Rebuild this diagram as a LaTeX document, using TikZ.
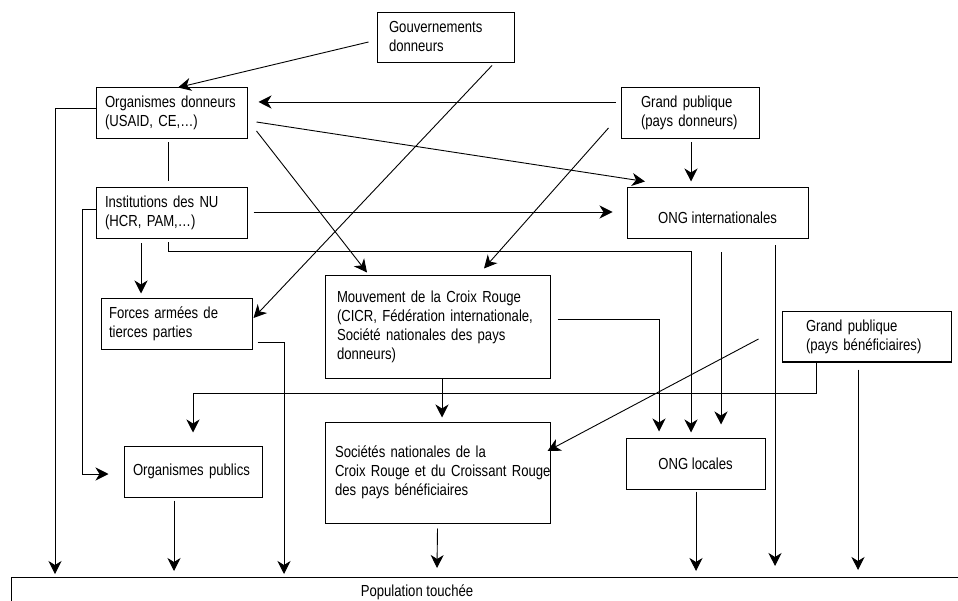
\documentclass[tikz,border=0pt]{standalone}
\usepackage{fontspec}
\setmainfont{Liberation Sans}[FakeStretch=0.82]
\usetikzlibrary{calc,arrows.meta}
\newcommand\lns[1]{\begin{tabular}{@{}l@{}}#1\end{tabular}}
\begin{document}
\begin{tikzpicture}[x=1pt,y=-1pt,
  box/.style={draw, line width=1pt, inner sep=0pt, align=left, font=\fontsize{16}{19}\selectfont},
  arr/.style={line width=0.9pt, -{Stealth[length=13pt,width=13pt,inset=4pt]}},
  ln/.style={line width=0.9pt}]
\useasboundingbox (0,0) rectangle (958,601);
% boxes
\node[box, minimum width=137pt, minimum height=50pt, text width=113pt] (gov) at (445.5,38) {\lns{Gouvernements\\donneurs}};
\node[box, minimum width=151pt, minimum height=51pt, text width=133pt] (orgdon) at (171.5,113.5) {\lns{Organismes donneurs\\(USAID, CE,…)}};
\node[box, minimum width=151pt, minimum height=51pt, text width=133pt] (inst) at (171.5,213.5) {\lns{Institutions des NU\\(HCR, PAM,…)}};
\node[box, minimum width=138pt, minimum height=51pt, text width=98pt] (gpd) at (690,113.5) {\lns{Grand publique\\(pays donneurs)}};
\node[box, minimum width=181pt, minimum height=51pt, align=center, text height=21pt, text depth=0pt] (ongint) at (717.5,213.5) {ONG internationales};
\node[box, minimum width=151pt, minimum height=51pt, text width=135pt] (forces) at (176.5,324.5) {\lns{Forces armées de\\tierces parties}};
\node[box, minimum width=225pt, minimum height=102pt, text width=201pt] (mvt) at (437.5,327) {\lns{Mouvement de la Croix Rouge\\(CICR, Fédération internationale,\\Société nationales des pays\\donneurs)}};
\node[box, minimum width=169pt, minimum height=50pt, text width=121pt] (gpb) at (866.5,337) {\lns{Grand publique\\(pays bénéficiaires)}};
\node[box, minimum width=138pt, minimum height=51pt, text width=120pt] (orgpub) at (193,471.5) {\lns{Organismes publics}};
\node[box, minimum width=225pt, minimum height=101pt, text width=205pt] (soc) at (437.5,472.5) {\lns{Sociétés nationales de la\\Croix Rouge et du Croissant Rouge\\des pays bénéficiaires}};
\node[box, minimum width=139pt, minimum height=51pt, align=center] (onglo) at (695.5,463.5) {ONG locales};
\node[box, minimum width=1000pt, minimum height=40pt, anchor=north west] (pop) at (11,577) {};
\node[font=\fontsize{16}{19}\selectfont, inner sep=0pt] (poplbl) at (417,592) {Population touchée};
% connectors
\draw[arr] ($(gov.west)+(-8,4)$) -- ($(orgdon.north)+(6.5,0)$);
\draw[arr] ($(gov.south)+(46.5,2)$) -- ($(forces.east)+(1,-6.5)$);
\draw[arr] ($(gpd.west)+(-5,-11.5)$) -- ($(orgdon.east)+(11,-11.5)$);
\draw[arr] ($(orgdon.east)+(9,8.5)$) -- ($(ongint.north)+(-72.5,-6)$);
\draw[arr] ($(orgdon.east)+(9,17.5)$) -- ($(mvt.north)+(-70.5,-3)$);
\draw[ln] ($(orgdon.south)+(-3.5,3)$) -- ($(inst.north)+(-3.5,-6)$);
\draw[arr] ($(orgdon.west)+(0,-5.5)$) -| ($(pop.north west)+(44,-3)$);
\draw[arr] ($(inst.east)+(6,-1.5)$) -- ($(ongint.west)+(-14,-1.5)$);
\draw[arr] ($(inst.south)+(-3.5,3)$) |- ($(onglo.north)+(-4.5,-186)$) -- ($(onglo.north)+(-4.5,-5)$);
\draw[arr] ($(inst.south)+(-30.5,4)$) -- ($(forces.north)+(-35.5,-5)$);
\draw[arr] ($(inst.west)+(0,-4.5)$) -| ($(orgpub.west)+(-41,2.5)$) -- ($(orgpub.west)+(-15,2.5)$);
\draw[arr] ($(gpd.south)+(1,3)$) -- ($(ongint.north)+(-26.5,-6)$);
\draw[arr] ($(gpd.west)+(-12,14.5)$) -- ($(mvt.north)+(46.5,-7)$);
\draw[arr] ($(ongint.south)+(3.5,13)$) -- ($(onglo.north)+(25.5,-13)$);
\draw[arr] ($(ongint.south)+(57.5,6)$) -- ($(pop.north west)+(764,-11)$);
\draw[arr] ($(mvt.east)+(7,-8)$) -| ($(onglo.north)+(-36.5,-6)$);
\draw[arr] ($(mvt.south)+(4.5,0)$) -- ($(soc.north)+(4.5,-4)$);
\draw[arr] ($(gpb.south)+(-50.5,0)$) |- ($(orgpub.north)+(0,-52)$) -- ($(orgpub.north)+(0,-13)$);
\draw[arr] ($(gpb.west)+(-23,2)$) -- ($(soc.east)+(-3,-21.5)$);
\draw[arr] ($(gpb.south)+(-8.5,7)$) -- ($(pop.north west)+(847,-7)$);
\draw[arr] ($(forces.east)+(5,17.5)$) -| ($(pop.north west)+(273,-3)$);
\draw[arr] ($(orgpub.south)+(-19,3)$) -- ($(pop.north west)+(163,-6)$);
\draw[arr] ($(soc.south)+(0,5)$) -- ($(pop.north west)+(426,-9)$);
\draw[arr] ($(onglo.south)+(0.5,2)$) -- ($(pop.north west)+(685,-6)$);
\end{tikzpicture}
\end{document}
